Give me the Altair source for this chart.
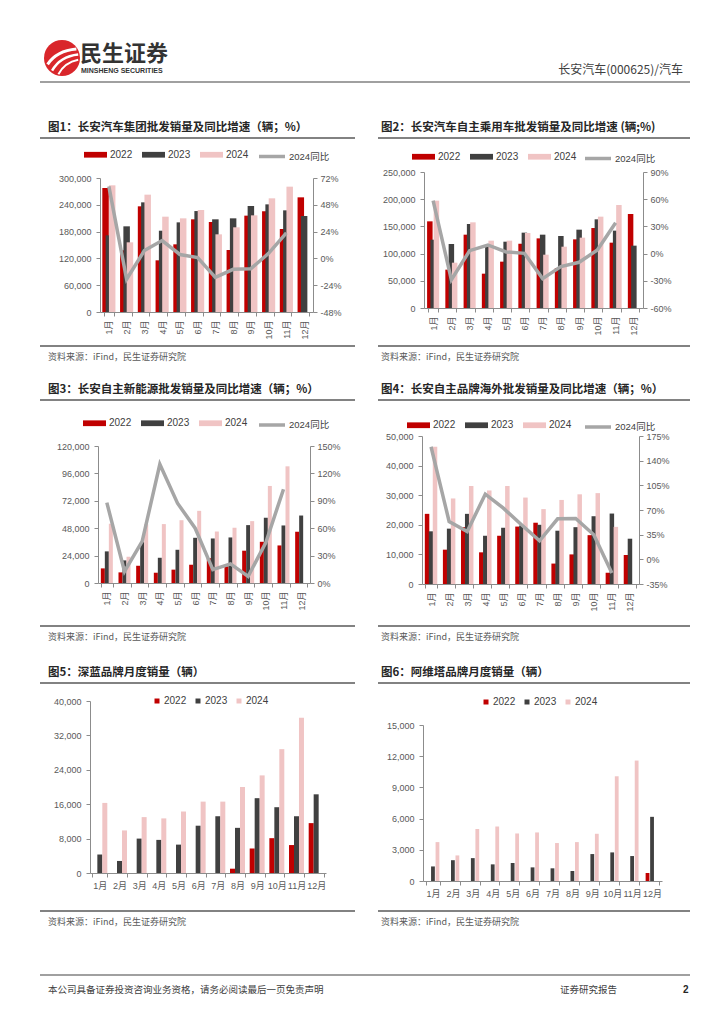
import altair as alt
import pandas as pd

MONTHS = ["1月", "2月", "3月", "4月", "5月", "6月", "7月", "8月", "9月", "10月", "11月", "12月"]
YEARS = ["2022", "2023", "2024"]
YOY_NAME = "2024同比"

# 图1 集团批发销量
G22 = [277600, 138000, 236600, 115700, 151500, 207500, 201500, 138800, 215700, 225400, 185800, 256700]
G23 = [171600, 191800, 245500, 182000, 200700, 226000, 207500, 209700, 237300, 241000, 227600, 214900]
G24 = [283600, 156000, 262700, 213400, 209700, 228400, 173900, 189600, 216400, 254500, 280600, None]
G_YOY = [64.5, -18.7, 7.0, 16.0, 3.5, 0.8, -17.0, -9.8, -9.2, 4.5, 22.8]

# 图2 自主乘用车
P22 = [159300, 70500, 134800, 63100, 85200, 118300, 128000, 73500, 126200, 147000, 120100, 172800]
P23 = [125600, 117600, 154400, 114600, 121900, 138500, 134800, 132400, 144000, 163000, 142200, 114600]
P24 = [197300, 83300, 157500, 123800, 123800, 137900, 98000, 112700, 129300, 167900, 189300, None]
P_YOY = [58.5, -28.8, 3.2, 9.5, 1.8, 0.3, -27.6, -14.4, -9.6, 4.0, 34.0]

# 图3 自主新能源
N22 = [12800, 9300, 15100, 9000, 11700, 16000, 21800, 14600, 28300, 36100, 32900, 44900]
N23 = [27700, 19800, 35800, 22100, 29100, 39600, 39000, 39900, 50700, 57100, 50400, 59100]
N24 = [51900, 23000, 51500, 51600, 55000, 63200, 45100, 48400, 54200, 85000, 102200, None]
N_YOY = [88.0, 12.7, 45.5, 130.0, 87.4, 60.0, 14.6, 21.0, 7.3, 44.4, 102.7]

# 图4 自主品牌海外
O22 = [23700, 11600, 19200, 10700, 16300, 19400, 20700, 6900, 10000, 16500, 3800, 9800]
O23 = [17800, 18700, 23700, 16300, 19000, 19800, 20000, 18000, 19200, 22900, 23800, 15300]
O24 = [46400, 28900, 33100, 31600, 33100, 29200, 25300, 28400, 30300, 30700, 19300, None]
O_YOY = [159.7, 53.7, 39.5, 92.4, 72.6, 49.0, 26.3, 57.5, 58.0, 34.8, -19.4]

# 图5 深蓝
D22 = [None, None, None, None, None, None, None, 1000, 5700, 8100, 6500, 11600]
D23 = [4300, 2800, 8000, 7700, 6600, 11000, 13200, 10500, 17400, 15300, 13200, 18300]
D24 = [16300, 9900, 13000, 12700, 14300, 16600, 16600, 20000, 22700, 28800, 36100, None]

# 图6 阿维塔
A22 = [None, None, None, None, None, None, None, None, None, None, None, 770]
A23 = [1400, 2000, 2200, 1600, 1730, 1310, 1220, 960, 2590, 2750, 2400, 6170]
A24 = [3740, 2460, 5000, 5240, 4570, 4670, 3650, 3740, 4540, 10070, 11580, None]

TITLES = [
    "图1：长安汽车集团批发销量及同比增速（辆；%）",
    "图2：长安汽车自主乘用车批发销量及同比增速 (辆;%)",
    "图3：长安自主新能源批发销量及同比增速（辆；%）",
    "图4：长安自主品牌海外批发销量及同比增速（辆；%）",
    "图5：深蓝品牌月度销量（辆）",
    "图6：阿维塔品牌月度销量（辆）",
]
SOURCE = "资料来源：iFind，民生证券研究院"
BRAND_CN = "民生证券"
BRAND_EN = "MINSHENG SECURITIES"
HEADER_RIGHT = "长安汽车(000625)/汽车"
FOOTER_LEFT = "本公司具备证券投资咨询业务资格，请务必阅读最后一页免责声明"
FOOTER_MID = "证券研究报告"
PAGE_NO = "2"

COLORS = ["#C00000", "#404040", "#F0C4C4"]
LINE_COLOR = "#A6A6A6"
NUM_FONT = "Liberation Sans, Noto Sans CJK SC, sans-serif"
CJK_FONT = "Noto Sans CJK SC"
AXIS_COLOR = "#8C8C8C"
LABEL_COLOR = "#595959"
RECT_SYMBOL = "M-1,-0.25L1,-0.25L1,0.25L-1,0.25Z"

W, H = 708, 1008
ONE = pd.DataFrame({"k": [0]})


def bars_df(v22, v23, v24):
    rows = []
    for y, vals in zip(YEARS, [v22, v23, v24]):
        for m, v in zip(MONTHS, vals):
            if v is not None:
                rows.append({"month": m, "year": y, "value": v})
    return pd.DataFrame(rows)


def x_enc(box, pad, angle):
    x0, y0, x1, y1 = box
    return alt.X(
        "month:N", sort=MONTHS,
        scale=alt.Scale(domain=MONTHS, range=[x0, x1], paddingInner=pad, paddingOuter=pad / 2),
        axis=alt.Axis(title=None, orient="bottom", offset=y1 - H, labelAngle=angle,
                      tickBand="extent", labelPadding=4, tickSize=4, labelFontSize=9),
    )


def bar_layer(v22, v23, v24, ymax, ystep, box, pad, barw, angle, legend):
    x0, y0, x1, y1 = box
    group_w = (x1 - x0) / 12 * (1 - pad)
    return alt.Chart(bars_df(v22, v23, v24)).mark_bar(width=barw).encode(
        x=x_enc(box, pad, angle),
        xOffset=alt.XOffset("year:N", sort=YEARS,
                            scale=alt.Scale(domain=YEARS, range=[0, group_w],
                                            paddingInner=0, paddingOuter=0)),
        y=alt.Y("value:Q", scale=alt.Scale(domain=[0, ymax], range=[y1, y0], nice=False),
                axis=alt.Axis(title=None, orient="left", offset=-x0,
                              values=list(range(0, ymax + 1, ystep)), format=",.0f",
                              grid=False, tickSize=4, labelPadding=5, labelFontSize=9)),
        color=alt.Color("year:N", scale=alt.Scale(domain=YEARS, range=COLORS), legend=legend),
    )


def dual_chart(v22, v23, v24, yoy, ymax, ystep, rmin, rmax, rstep, box, pad, barw, lx, ly, llx):
    x0, y0, x1, y1 = box
    leg = alt.Legend(title=None, orient="none", legendX=lx, legendY=ly, direction="horizontal",
                     symbolType=RECT_SYMBOL, symbolSize=529, symbolStrokeWidth=0,
                     labelFontSize=10, labelFont=NUM_FONT, labelColor="#404040",
                     columnPadding=9, labelOffset=3)
    bars = bar_layer(v22, v23, v24, ymax, ystep, box, pad, barw, 270, leg)
    ldf = pd.DataFrame({"month": MONTHS[:len(yoy)], "yoy": yoy, "series": YOY_NAME})
    line = alt.Chart(ldf).mark_line(strokeWidth=3.5).encode(
        x=x_enc(box, pad, 270),
        y=alt.Y("yoy:Q", scale=alt.Scale(domain=[rmin, rmax], range=[y1, y0], nice=False),
                axis=alt.Axis(title=None, orient="right", offset=x1 - W,
                              values=list(range(rmin, rmax + 1, rstep)),
                              labelExpr="datum.value + '%'", grid=False, tickSize=4,
                              labelPadding=3, labelFontSize=9)),
        stroke=alt.Stroke("series:N", scale=alt.Scale(domain=[YOY_NAME], range=[LINE_COLOR]),
                          legend=alt.Legend(title=None, orient="none", legendX=llx, legendY=ly - 1.5,
                                            symbolType="stroke", symbolSize=676, symbolStrokeWidth=3.5,
                                            labelFontSize=9.5, labelFont=NUM_FONT,
                                            labelColor="#404040", labelOffset=2)),
    )
    return alt.layer(bars, line).resolve_scale(y="independent")


def plain_chart(v22, v23, v24, ymax, ystep, box, pad, barw, lx, ly):
    leg = alt.Legend(title=None, orient="none", legendX=lx, legendY=ly, direction="horizontal",
                     symbolType="square", symbolSize=25, symbolStrokeWidth=0,
                     labelFontSize=10, labelFont=NUM_FONT, labelColor="#404040",
                     columnPadding=6, labelOffset=2)
    return bar_layer(v22, v23, v24, ymax, ystep, box, pad, barw, 0, leg)


def txt(s, x, y, size=9, color=LABEL_COLOR, weight="normal", align="left", font=CJK_FONT):
    return alt.Chart(ONE).mark_text(align=align, baseline="middle", fontSize=size, color=color,
                                    fontWeight=weight, font=font).encode(
        x=alt.value(x), y=alt.value(y), text=alt.value(s))


def hline(x1, x2, y, color="#595959", width=1.5):
    return alt.Chart(ONE).mark_rule(color=color, strokeWidth=width).encode(
        x=alt.value(x1), x2=alt.value(x2), y=alt.value(y))


def pair_lines(y):
    return [hline(32, 347, y), hline(370, 682, y)]


def titles(t1, t2, y):
    return [txt(t1, 40, y, size=11.5, color="#262626", weight="bold"),
            txt(t2, 373, y, size=11.5, color="#262626", weight="bold")]


def sources(y):
    return [txt(SOURCE, 40, y), txt(SOURCE, 373, y)]


def logo_part(shape, **kw):
    return alt.Chart(ONE).mark_point(shape=shape, size=1296, opacity=1, **kw).encode(
        x=alt.value(54), y=alt.value(50))


decor = [
    logo_part("circle", filled=True, color="#D9262B"),
    logo_part("M-0.8,0.35 Q-0.3,-0.4 0.8,-0.5", filled=False, stroke="white", strokeWidth=3),
    logo_part("M-0.55,0.7 Q-0.1,-0.1 0.9,-0.2", filled=False, stroke="white", strokeWidth=2.5),
    logo_part("M-0.2,0.9 Q0.15,0.25 0.9,0.1", filled=False, stroke="white", strokeWidth=2),
    txt(BRAND_CN, 72, 46, size=22, color="#333333", weight="bold"),
    txt(BRAND_EN, 73, 63, size=7, color="#333333", weight="bold", font="Liberation Sans"),
    txt(HEADER_RIGHT, 675, 62, size=12, color="#404040", align="right"),
    hline(32, 682, 74, color="#808080", width=1.5),
    *titles(TITLES[0], TITLES[1], 120), *pair_lines(130),
    *pair_lines(338), *sources(349),
    *titles(TITLES[2], TITLES[3], 382), *pair_lines(392),
    *pair_lines(618), *sources(629),
    *titles(TITLES[4], TITLES[5], 665), *pair_lines(675),
    *pair_lines(903), *sources(914),
    hline(32, 682, 967, color="#808080", width=1.5),
    txt(FOOTER_LEFT, 40, 982, size=9.5, color="#404040"),
    txt(FOOTER_MID, 552, 982, size=9.5, color="#404040"),
    txt(PAGE_NO, 675, 982, size=10, color="#262626", weight="bold", font="Liberation Sans"),
]

# plot boxes (left, top, right, bottom) in chart pixels
c1 = dual_chart(G22, G23, G24, G_YOY, 300000, 60000, -48, 72, 24, (92, 170, 305, 304),
                0.44, 6.5, 76, 135, 249)
c2 = dual_chart(P22, P23, P24, P_YOY, 250000, 50000, -60, 90, 30, (416, 164, 635, 300),
                0.46, 5.5, 404, 137, 575)
c3 = dual_chart(N22, N23, N24, N_YOY, 120000, 24000, 0, 150, 30, (90, 438, 302, 575),
                0.32, 4.0, 75, 403.5, 249)
c4 = dual_chart(O22, O23, O24, O_YOY, 50000, 10000, -35, 175, 35, (414, 428, 631, 576),
                0.34, 4.5, 399, 405.5, 575)
c5 = plain_chart(D22, D23, D24, 40000, 8000, (82, 693, 318, 865), 0.24, 5.0, 144, 688)
c6 = plain_chart(A22, A23, A24, 15000, 3000, (415, 717, 654, 873), 0.32, 3.8, 473, 689)

chart = alt.layer(*decor, c1, c2, c3, c4, c5, c6).resolve_scale(
    x="independent", y="independent", xOffset="independent",
    color="independent", stroke="independent"
).resolve_axis(x="independent", y="independent").resolve_legend(
    color="independent", stroke="independent"
).properties(
    width=W, height=H, padding=0, background="white",
    autosize=alt.AutoSizeParams(type="none")
).configure_view(stroke=None).configure_axis(
    domainColor=AXIS_COLOR, tickColor=AXIS_COLOR, labelColor=LABEL_COLOR, labelFont=NUM_FONT
)

chart.save("out.html", embed_options={"renderer": "svg", "actions": False})
